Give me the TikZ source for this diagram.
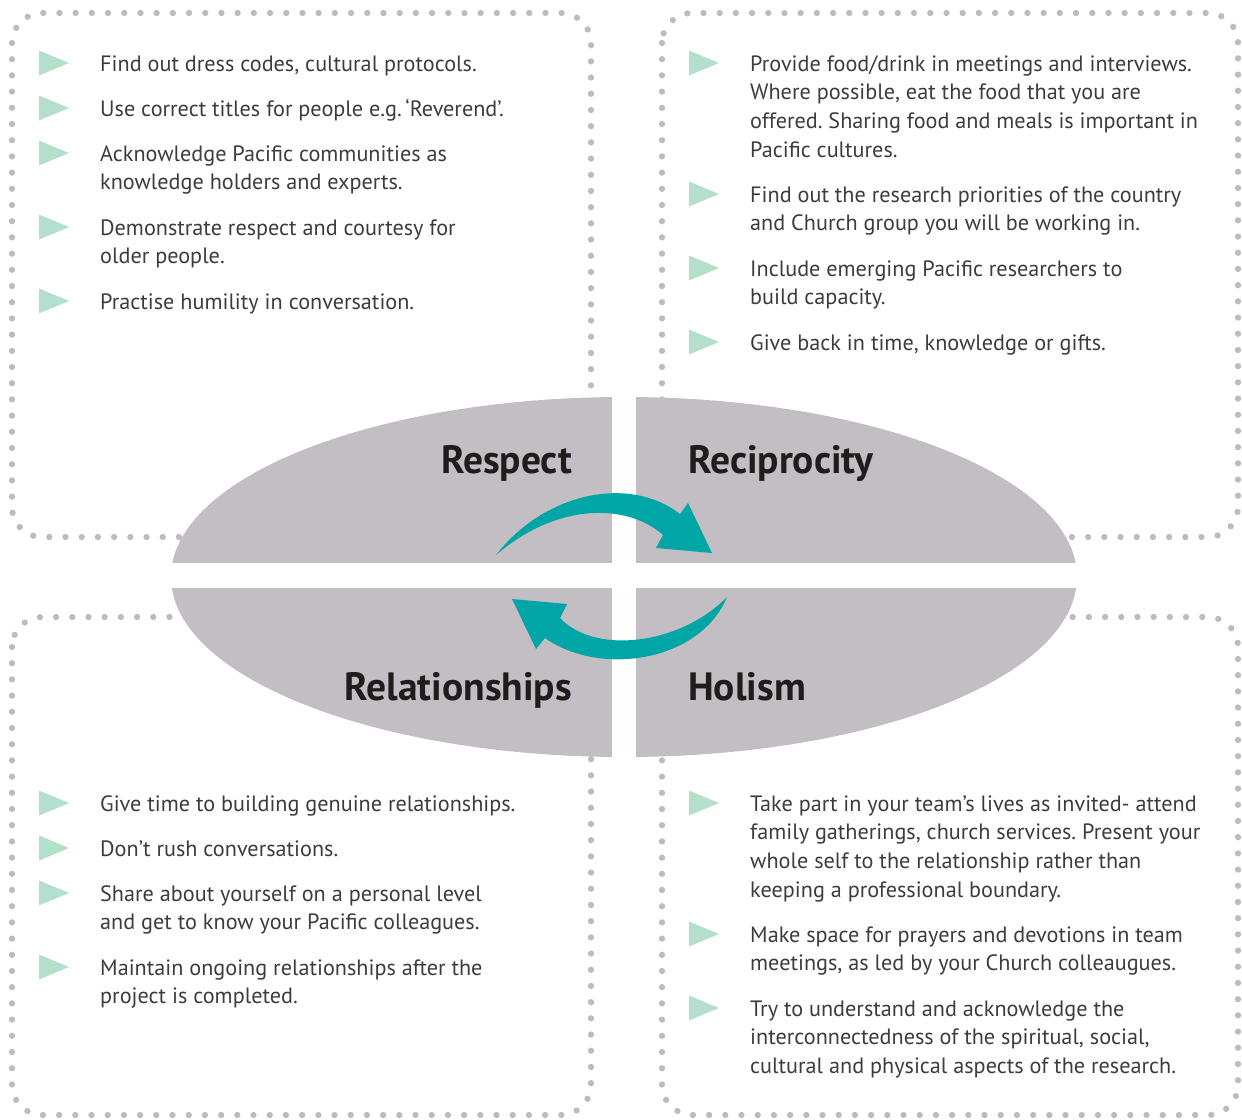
\documentclass[tikz,border=0pt]{standalone}
\usepackage{fontspec}
\setmainfont{PT Sans}
\frenchspacing
\definecolor{dotcol}{HTML}{BFBAC1}
\definecolor{ellcol}{HTML}{C3BEC4}
\definecolor{teal}{HTML}{00A6A6}
\definecolor{tricol}{HTML}{B3DFCB}
\definecolor{txtcol}{HTML}{3C3C3C}
\definecolor{headcol}{HTML}{1E1D1C}
\newcommand\bultri[2]{\fill[tricol] (#1,#2-12.5) -- (#1+30,#2) -- (#1,#2+12.5) -- cycle;}
\begin{document}
\begin{tikzpicture}[x=1pt,y=-1pt,
  dotbox/.style={draw=dotcol, line width=6.3pt, line cap=round, dash pattern=on 0pt off 16.2pt, rounded corners=30pt},
  txt/.style={anchor=base west, inner sep=0pt, text=txtcol, font=\fontsize{22.2}{28.7}\selectfont},
  head/.style={inner sep=0pt, text=headcol, font=\fontsize{39.5}{42}\selectfont\bfseries}]
\useasboundingbox (0,0) rectangle (1242,1119);
% dotted boxes
\draw[dotbox] (12,13) rectangle (591,537);
\draw[dotbox] (662,13) rectangle (1238,537);
\draw[dotbox] (12,617) rectangle (591,1115);
\draw[dotbox] (662,617) rectangle (1238,1115);
% ellipse split into quadrants
\fill[ellcol] (624,577) ellipse [x radius=453, y radius=180];
\fill[white] (612,390) rectangle (636,770);
\fill[white] (160,563) rectangle (1090,588);
% headings
\node[head, anchor=base east] (respect) at (572,473) {Respect};
\node[head, anchor=base west] (recip) at (688,473) {Reciprocity};
\node[head, anchor=base east] (relat) at (572,700) {Relationships};
\node[head, anchor=base west] (holism) at (688,700) {Holism};
% cycle arrows
\fill[teal] (496,555) .. controls (545,492) and (630,475) .. (680,514)
  -- (688,503) -- (712,553) -- (656,548) -- (663,535)
  .. controls (630,505) and (560,500) .. (496,555) -- cycle;
\fill[teal] (727,597) .. controls (700,662) and (600,677) .. (545,638)
  -- (536,649) -- (512,599) -- (567,604) -- (560,618)
  .. controls (595,655) and (680,645) .. (727,597) -- cycle;
% top-left items
\bultri{39}{63}\node[txt] (tl1) at (100,71) {Find out dress codes, cultural protocols.};
\bultri{39}{108}\node[txt] (tl2) at (100,116) {Use correct titles for people e.g.\,‘Reverend’.};
\bultri{39}{153}\node[txt] (tl3) at (100,161) {\begin{tabular}[t]{@{}l@{}}Acknowledge Pacific communities as\\knowledge holders and experts.\end{tabular}};
\bultri{39}{227}\node[txt] (tl4) at (100,235) {\begin{tabular}[t]{@{}l@{}}Demonstrate respect and courtesy for\\older people.\end{tabular}};
\bultri{39}{301}\node[txt] (tl5) at (100,309) {Practise humility in conversation.};
% top-right items
\bultri{689}{63}\node[txt] (tr1) at (750,71) {\begin{tabular}[t]{@{}l@{}}Provide food/drink in meetings and interviews.\\Where possible, eat the food that you are\\offered. Sharing food and meals is important in\\Pacific cultures.\end{tabular}};
\bultri{689}{194}\node[txt] (tr2) at (750,202) {\begin{tabular}[t]{@{}l@{}}Find out the research priorities of the country\\and Church group you will be working in.\end{tabular}};
\bultri{689}{268}\node[txt] (tr3) at (750,276) {\begin{tabular}[t]{@{}l@{}}Include emerging Pacific researchers to\\build capacity.\end{tabular}};
\bultri{689}{342}\node[txt] (tr4) at (750,350) {Give back in time, knowledge or gifts.};
% bottom-left items
\bultri{39}{803}\node[txt] (bl1) at (100,811) {Give time to building genuine relationships.};
\bultri{39}{848}\node[txt] (bl2) at (100,856) {Don’t rush conversations.};
\bultri{39}{893}\node[txt] (bl3) at (100,901) {\begin{tabular}[t]{@{}l@{}}Share about yourself on a personal level\\and get to know your Pacific colleagues.\end{tabular}};
\bultri{39}{967}\node[txt] (bl4) at (100,975) {\begin{tabular}[t]{@{}l@{}}Maintain ongoing relationships after the\\project is completed.\end{tabular}};
% bottom-right items
\bultri{689}{803}\node[txt] (br1) at (750,811) {\begin{tabular}[t]{@{}l@{}}Take part in your team’s lives as invited- attend\\family gatherings, church services. Present your\\whole self to the relationship rather than\\keeping a professional boundary.\end{tabular}};
\bultri{689}{934}\node[txt] (br2) at (750,942) {\begin{tabular}[t]{@{}l@{}}Make space for prayers and devotions in team\\meetings, as led by your Church colleaugues.\end{tabular}};
\bultri{689}{1008}\node[txt] (br3) at (750,1016) {\begin{tabular}[t]{@{}l@{}}Try to understand and acknowledge the\\interconnectedness of the spiritual, social,\\cultural and physical aspects of the research.\end{tabular}};
\end{tikzpicture}
\end{document}
